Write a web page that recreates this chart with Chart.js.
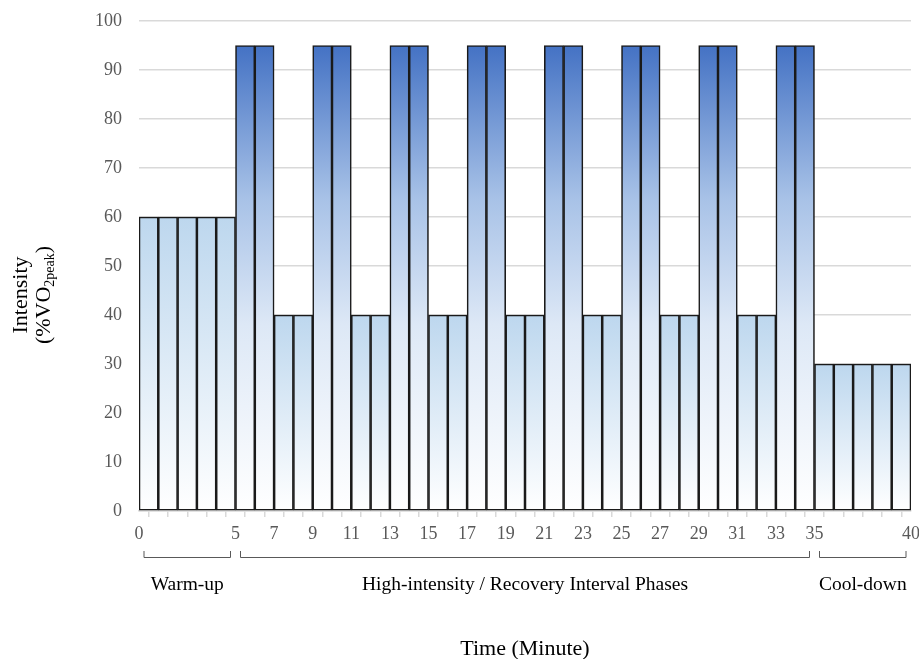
<!DOCTYPE html>
<html>
<head>
<meta charset="utf-8">
<script src="https://cdn.jsdelivr.net/npm/chart.js@4.4.1/dist/chart.umd.min.js"></script>
<style>
  html, body { margin: 0; padding: 0; background: #ffffff; }
  #wrap { width: 919px; height: 659px; position: relative; }
</style>
</head>
<body>
<div id="wrap"><canvas id="c" width="919" height="659"></canvas></div>
<script>
// ---- Data ----
const intensity = [60,60,60,60,60, 95,95, 40,40, 95,95, 40,40, 95,95, 40,40, 95,95, 40,40, 95,95, 40,40, 95,95, 40,40, 95,95, 40,40, 95,95, 30,30,30,30,30];
const xTickLabels = [0,5,7,9,11,13,15,17,19,21,23,25,27,29,31,33,35,40];
const yTicks = [0,10,20,30,40,50,60,70,80,90,100];
const phaseLabels = ['Warm-up', 'High-intensity / Recovery Interval Phases', 'Cool-down'];
const phaseStart = [0, 5, 35];
const phaseEnd = [5, 35, 40];
const highIntensity = 95;

const FONT = "'Liberation Serif', 'Times New Roman', serif";

const points = intensity.map((v, i) => ({ x: i + 0.5, y: v }));

function barFill(ctx) {
  const chart = ctx.chart;
  if (!chart.chartArea || ctx.raw == null) return '#BDD7EE';
  const v = ctx.raw.y;
  const ys = chart.scales.y;
  const y0 = ys.getPixelForValue(0);
  const y1 = ys.getPixelForValue(v);
  const g = chart.ctx.createLinearGradient(0, y0, 0, y1);
  if (v >= highIntensity) {
    g.addColorStop(0, '#FFFFFF');
    g.addColorStop(0.4, '#DDE8F6');
    g.addColorStop(0.67, '#A8C2E7');
    g.addColorStop(1, '#4472C4');
  } else {
    g.addColorStop(0, '#FFFFFF');
    g.addColorStop(1, '#BDD7EE');
  }
  return g;
}

const annot = {
  id: 'annot',
  afterDraw(chart) {
    const c = chart.ctx;
    const xs = chart.scales.x;
    c.save();
    // brackets
    c.strokeStyle = '#595959';
    c.lineWidth = 1;
    const by = 557.5, bt = 551;
    for (let i = 0; i < phaseLabels.length; i++) {
      const a = xs.getPixelForValue(phaseStart[i]) + 4.5;
      const b = xs.getPixelForValue(phaseEnd[i]) - 4.5;
      c.beginPath();
      c.moveTo(a + 0.5, bt);
      c.lineTo(a + 0.5, by);
      c.lineTo(b - 0.5, by);
      c.lineTo(b - 0.5, bt);
      c.stroke();
      c.fillStyle = '#000000';
      c.font = '19.5px ' + FONT;
      c.textAlign = 'center';
      c.textBaseline = 'middle';
      c.fillText(phaseLabels[i], (xs.getPixelForValue(phaseStart[i]) + xs.getPixelForValue(phaseEnd[i])) / 2, 585);
    }
    // x title
    c.font = '22px ' + FONT;
    c.fillStyle = '#000000';
    c.textAlign = 'center';
    c.textBaseline = 'middle';
    c.fillText('Time (Minute)', (xs.left + xs.right) / 2, 649);
    // y title
    const cy = 295;
    c.save();
    c.translate(21, cy);
    c.rotate(-Math.PI / 2);
    c.fillText('Intensity', 0, 0);
    c.restore();
    c.save();
    c.translate(44, cy);
    c.rotate(-Math.PI / 2);
    const mainF = '22px ' + FONT, subF = '14px ' + FONT;
    const p1 = '(%VO', p2 = '2peak', p3 = ')';
    c.font = mainF; const w1 = c.measureText(p1).width; const w3 = c.measureText(p3).width;
    c.font = subF; const w2 = c.measureText(p2).width;
    let x = -(w1 + w2 + w3) / 2;
    c.textAlign = 'left';
    c.font = mainF; c.fillText(p1, x, 0); x += w1;
    c.font = subF; c.fillText(p2, x, 6); x += w2;
    c.font = mainF; c.fillText(p3, x, 0);
    c.restore();
    c.restore();
  }
};

new Chart(document.getElementById('c'), {
  type: 'bar',
  data: {
    datasets: [{
      data: points,
      backgroundColor: barFill,
      borderColor: '#1a1a1a',
      borderWidth: 1.6,
      borderSkipped: false,
      barPercentage: 1,
      categoryPercentage: 1
    }]
  },
  options: {
    responsive: false,
    animation: false,
    devicePixelRatio: 1,
    layout: { padding: { top: 21, right: 8, left: 0, bottom: 0 } },
    plugins: { legend: { display: false }, tooltip: { enabled: false } },
    scales: {
      x: {
        type: 'linear',
        min: 0, max: 40,
        offset: false,
        afterBuildTicks: (s) => { s.ticks = Array.from({ length: 41 }, (_, i) => ({ value: i })); },
        afterFit: (s) => { s.height = 148; s.paddingLeft = 0; s.paddingRight = 0; },
        grid: { display: true, drawOnChartArea: false, drawTicks: true, tickLength: 6, color: '#d9d9d9', lineWidth: 1.5 },
        border: { display: true, color: '#d9d9d9', width: 1.5 },
        ticks: {
          autoSkip: false, maxRotation: 0, minRotation: 0, padding: 6,
          color: '#595959', font: { family: FONT, size: 18 },
          callback: (v) => xTickLabels.includes(v) ? String(v) : ''
        }
      },
      y: {
        min: 0, max: 100,
        afterBuildTicks: (s) => { s.ticks = yTicks.map(v => ({ value: v })); },
        afterFit: (s) => { s.width = 139; s.paddingTop = 0; s.paddingBottom = 0; },
        grid: { color: '#d9d9d9', lineWidth: 1.5, drawTicks: false },
        border: { display: false },
        ticks: { padding: 17, color: '#595959', font: { family: FONT, size: 18 } }
      }
    }
  },
  plugins: [annot]
});
</script>
</body>
</html>
